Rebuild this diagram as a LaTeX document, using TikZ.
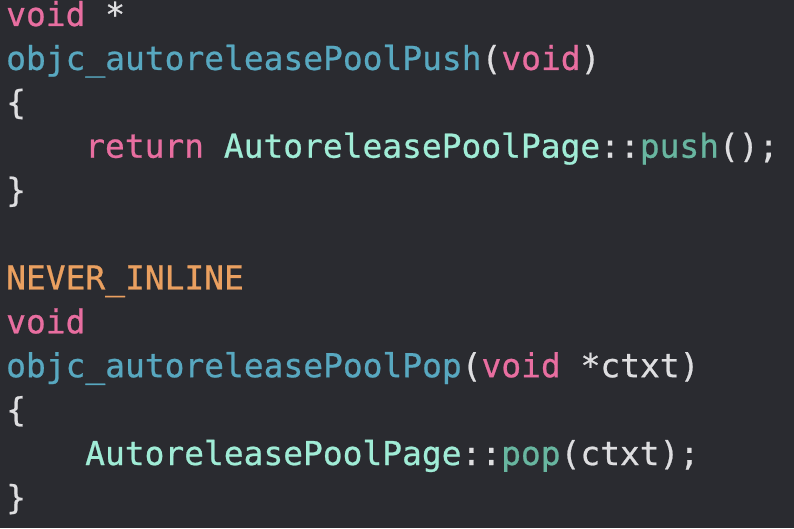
\documentclass[tikz,border=0pt]{standalone}
\usepackage{fontspec}
\setmonofont[FakeBold=0.7]{DejaVu Sans Mono}
\usepackage{tikz}

\definecolor{editorbg}{RGB}{42,43,48}
\definecolor{plaintxt}{RGB}{222,222,224}
\definecolor{keyword}{RGB}{232,110,160}
\definecolor{funcname}{RGB}{88,168,192}
\definecolor{classname}{RGB}{160,236,214}
\definecolor{methodname}{RGB}{104,182,160}
\definecolor{macroname}{RGB}{234,160,96}

\begin{document}
\begin{tikzpicture}
[x=1pt, y=1pt,
codeline/.style={anchor=base west, inner sep=0pt, text=plaintxt,
  font=\ttfamily\fontsize{32.9}{44}\selectfont}]

% background
\fill[editorbg] (0,0) rectangle (794,528);

% objc_autoreleasePoolPush
\node[codeline] (l0) at (6,502) {\textcolor{keyword}{void}~*};
\node[codeline] (l1) at (6,458.1) {\textcolor{funcname}{objc\_autoreleasePoolPush}(\textcolor{keyword}{void})};
\node[codeline] (l2) at (6,414.2) {\{};
\node[codeline] (l3) at (85,370.3) {\textcolor{keyword}{return}~\textcolor{classname}{AutoreleasePoolPage}::\textcolor{methodname}{push}();};
\node[codeline] (l4) at (6,326.4) {\}};

% objc_autoreleasePoolPop
\node[codeline] (l6) at (6,238.6) {\textcolor{macroname}{NEVER\_INLINE}};
\node[codeline] (l7) at (6,194.7) {\textcolor{keyword}{void}};
\node[codeline] (l8) at (6,150.8) {\textcolor{funcname}{objc\_autoreleasePoolPop}(\textcolor{keyword}{void}~*ctxt)};
\node[codeline] (l9) at (6,106.9) {\{};
\node[codeline] (l10) at (85,63) {\textcolor{classname}{AutoreleasePoolPage}::\textcolor{methodname}{pop}(ctxt);};
\node[codeline] (l11) at (6,19.1) {\}};

\end{tikzpicture}
\end{document}
